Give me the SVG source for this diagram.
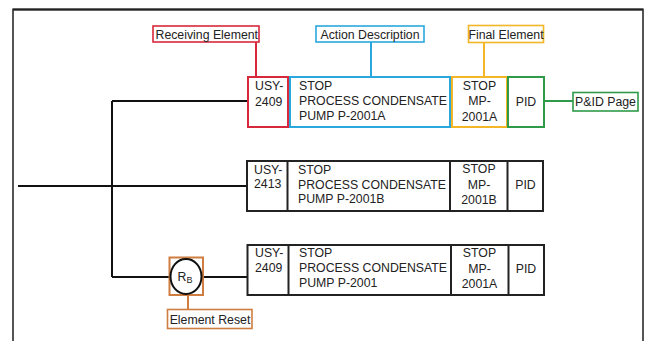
<svg xmlns="http://www.w3.org/2000/svg" width="650" height="341" viewBox="0 0 650 341">
  <style>
    text { font-family: "Liberation Sans", Arial, sans-serif; font-size: 12.3px; fill: #222; }
    .mid { text-anchor: middle; }
    .frame { fill: none; stroke: #555; stroke-width: 2; }
    .wire { fill: none; stroke: #111; stroke-width: 2; }
    .cell { fill: #fff; stroke: #222; stroke-width: 2; }
    .div { stroke: #222; stroke-width: 2; }
    .red { fill: none; stroke: #d8283c; stroke-width: 2; }
    .blue { fill: none; stroke: #2aa8de; stroke-width: 2; }
    .amber { fill: none; stroke: #f2b626; stroke-width: 2; }
    .green { fill: none; stroke: #2f9a48; stroke-width: 2; }
    .rust { fill: none; stroke: #cf7d40; stroke-width: 2; }
    .tag { fill: #fff; stroke-width: 1.6; }
  </style>

  <!-- sheet border -->
  <g id="frame">
    <path class="frame" d="M13,341 V9.5 H643 V341"/>
    <path d="M13,9.5 H643" stroke="#222" stroke-width="2"/>
  </g>

  <!-- wiring -->
  <g id="connectors">
    <path class="wire" d="M18,186 H247"/>
    <path class="wire" d="M112,101 V277"/>
    <path class="wire" d="M112,101 H248"/>
    <path class="wire" d="M112,277 H170"/>
    <path class="wire" d="M202,277 H247"/>
    <!-- callout leaders -->
    <path class="red" d="M256,42 V77"/>
    <path class="blue" d="M371,42 V77"/>
    <path class="amber" d="M484,43 V77"/>
    <path class="green" d="M545,101 H573"/>
    <path class="rust" d="M188,295 V309"/>
  </g>

  <!-- row 1 -->
  <g id="row1">
    <rect class="cell" x="248" y="77" width="296" height="50"/>
    <line class="div" x1="289" y1="77" x2="289" y2="127"/>
    <line class="div" x1="451" y1="77" x2="451" y2="127"/>
    <line class="div" x1="508" y1="77" x2="508" y2="127"/>
    <rect class="red" x="248" y="77" width="40" height="50"/>
    <rect class="blue" x="290" y="77" width="160" height="50"/>
    <rect class="amber" x="452" y="77" width="55" height="50"/>
    <rect class="green" x="508" y="77" width="36" height="50"/>
    <text x="255" y="90">USY-</text>
    <text x="255" y="105.5">2409</text>
    <text x="299" y="90">STOP</text>
    <text x="299" y="105">PROCESS CONDENSATE</text>
    <text x="299" y="120">PUMP P-2001A</text>
    <text class="mid" x="479.5" y="89.5">STOP</text>
    <text class="mid" x="479.5" y="105">MP-</text>
    <text class="mid" x="479.5" y="121">2001A</text>
    <text class="mid" x="526" y="106">PID</text>
  </g>

  <!-- row 2 -->
  <g id="row2">
    <rect class="cell" x="247" y="161" width="296" height="50"/>
    <line class="div" x1="287.5" y1="161" x2="287.5" y2="211"/>
    <line class="div" x1="450" y1="161" x2="450" y2="212"/>
    <line class="div" x1="507.5" y1="161" x2="507.5" y2="211"/>
    <text x="254" y="173.5">USY-</text>
    <text x="254" y="188">2413</text>
    <text x="298" y="173.5">STOP</text>
    <text x="298" y="188.5">PROCESS CONDENSATE</text>
    <text x="298" y="203">PUMP P-2001B</text>
    <text class="mid" x="479" y="173">STOP</text>
    <text class="mid" x="479" y="188.5">MP-</text>
    <text class="mid" x="479" y="203.5">2001B</text>
    <text class="mid" x="525.5" y="189">PID</text>
  </g>

  <!-- row 3 -->
  <g id="row3">
    <rect class="cell" x="247.5" y="245" width="296.5" height="50"/>
    <line class="div" x1="288.5" y1="245" x2="288.5" y2="295"/>
    <line class="div" x1="451" y1="245" x2="451" y2="296"/>
    <line class="div" x1="508.5" y1="245" x2="508.5" y2="295"/>
    <text x="255" y="256.5">USY-</text>
    <text x="255" y="272">2409</text>
    <text x="299" y="257">STOP</text>
    <text x="299" y="272">PROCESS CONDENSATE</text>
    <text x="299" y="287">PUMP P-2001</text>
    <text class="mid" x="479.5" y="257">STOP</text>
    <text class="mid" x="479.5" y="272.5">MP-</text>
    <text class="mid" x="479.5" y="288">2001A</text>
    <text class="mid" x="526" y="273">PID</text>
  </g>

  <!-- reset element -->
  <g id="reset">
    <rect class="rust" x="169.5" y="257.5" width="33.5" height="37.5"/>
    <ellipse cx="186" cy="276.5" rx="15.5" ry="17.5" fill="#fff" stroke="#111" stroke-width="2"/>
    <text x="177.5" y="281">R<tspan font-size="9" dy="1.5">B</tspan></text>
  </g>

  <!-- callout labels -->
  <g id="label-receiving">
    <rect class="red tag" x="153" y="26" width="106" height="16"/>
    <text x="155.5" y="38.5">Receiving Element</text>
  </g>
  <g id="label-action">
    <rect class="blue tag" x="316" y="26" width="108" height="16"/>
    <text class="mid" x="370" y="38.5">Action Description</text>
  </g>
  <g id="label-final">
    <rect class="amber tag" x="468.5" y="25.5" width="75" height="17"/>
    <text class="mid" x="506" y="38.5">Final Element</text>
  </g>
  <g id="label-pid">
    <rect class="green tag" x="573" y="92.5" width="65" height="18.5"/>
    <text class="mid" x="605.5" y="106">P&amp;ID Page</text>
  </g>
  <g id="label-reset">
    <rect class="rust tag" x="167.5" y="309.5" width="84.5" height="19"/>
    <text class="mid" x="210" y="323.5">Element Reset</text>
  </g>
</svg>
